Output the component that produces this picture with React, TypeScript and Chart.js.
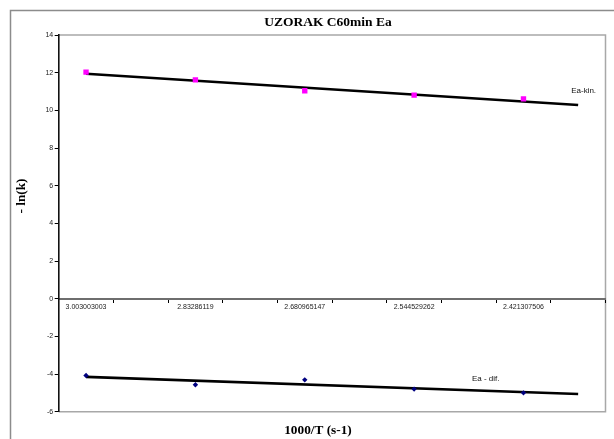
import React, { useEffect, useRef } from 'react';
import { Chart, registerables } from 'chart.js';

Chart.register(...registerables);

// Category axis: 10 slots, labels on every other slot (as in the source sheet)
const categories = ['3.003003003', '', '2.83286119', '', '2.680965147', '', '2.544529262', '', '2.421307506', ''];

// -ln(k) values
const eaKin = [12.03, null, 11.62, null, 11.04, null, 10.81, null, 10.61, null];
const eaDif = [-4.08, null, -4.57, null, -4.31, null, -4.80, null, -5.0, null];

// Linear trendline end values
const eaKinTrend = [11.94, null, null, null, null, null, null, null, null, 10.28];
const eaDifTrend = [-4.15, null, null, null, null, null, null, null, null, -5.06];

const yMin = -6;
const yMax = 14;
const yStep = 2;

const titleText = 'UZORAK C60min Ea';
const xTitleText = '1000/T (s-1)';
const yTitleText = '- ln(k)';
const kinLabel = 'Ea-kin.';
const difLabel = 'Ea - dif.';

const decorPlugin = {
  id: 'decor',
  beforeDraw(chart: any) {
    const { ctx, chartArea: a } = chart;
    ctx.save();
    ctx.fillStyle = '#ffffff';
    ctx.fillRect(0, 0, chart.width, chart.height);
    ctx.strokeStyle = '#8c8c8c';
    ctx.lineWidth = 1.5;
    ctx.strokeRect(10.5, 10.5, chart.width + 40, chart.height + 40);
    ctx.strokeStyle = '#a8a8a8';
    ctx.lineWidth = 1.5;
    ctx.beginPath();
    ctx.moveTo(a.left, a.top);
    ctx.lineTo(a.right, a.top);
    ctx.lineTo(a.right, a.bottom);
    ctx.lineTo(a.left, a.bottom);
    ctx.stroke();
    ctx.restore();
  },
  afterDraw(chart: any) {
    const { ctx } = chart;
    const xs = chart.scales.x;
    const ys = chart.scales.y;
    ctx.save();
    ctx.fillStyle = '#000';
    ctx.textAlign = 'center';
    ctx.textBaseline = 'middle';
    ctx.font = 'bold 13.5px "Liberation Serif"';
    ctx.fillText(titleText, 328, 23);
    ctx.font = 'bold 13.3px "Liberation Serif"';
    ctx.fillText(xTitleText, 318, 431);
    ctx.save();
    ctx.translate(21.5, 196);
    ctx.rotate(-Math.PI / 2);
    ctx.fillText(yTitleText, 0, 0);
    ctx.restore();
    ctx.font = '8px "Liberation Sans"';
    ctx.fillStyle = '#111';
    ctx.fillText(kinLabel, xs.getPixelForValue(9.1), ys.getPixelForValue(11.03));
    ctx.fillText(difLabel, xs.getPixelForValue(7.31), ys.getPixelForValue(-4.27));
    ctx.restore();
  },
};

export default function App() {
  const ref = useRef<HTMLCanvasElement | null>(null);

  useEffect(() => {
    if (!ref.current) return;
    const tickFont = { family: '"Liberation Sans"', size: 7 };
    const chart = new Chart(ref.current, {
      type: 'line',
      data: {
        labels: categories,
        datasets: [
          {
            label: 'Ea-kin.',
            data: eaKin,
            showLine: false,
            pointStyle: 'rect',
            pointRadius: 3.8,
            pointBackgroundColor: '#ff00ff',
            pointBorderColor: '#ff00ff',
            pointBorderWidth: 0,
          },
          {
            label: 'Ea - dif.',
            data: eaDif,
            showLine: false,
            pointStyle: 'rectRot',
            pointRadius: 2.7,
            pointBackgroundColor: '#000080',
            pointBorderColor: '#000080',
            pointBorderWidth: 0,
          },
          {
            label: 'kin trend',
            data: eaKinTrend,
            spanGaps: true,
            borderColor: '#000',
            borderWidth: 2.6,
            pointRadius: 0,
            fill: false,
          },
          {
            label: 'dif trend',
            data: eaDifTrend,
            spanGaps: true,
            borderColor: '#000',
            borderWidth: 2.6,
            pointRadius: 0,
            fill: false,
          },
        ],
      },
      options: {
        animation: false,
        responsive: false,
        devicePixelRatio: 1,
        layout: { padding: { top: 35, right: 8.5, bottom: 27.3, left: 0 } },
        plugins: {
          legend: { display: false },
          tooltip: { enabled: false },
          title: { display: false },
        },
        scales: {
          x: {
            type: 'category',
            position: { y: 0 },
            offset: true,
            grid: {
              offset: true,
              drawOnChartArea: false,
              drawTicks: true,
              tickLength: 3,
              color: '#000',
              lineWidth: 1,
            },
            border: { display: true, color: '#6e6e6e', width: 2 },
            ticks: {
              autoSkip: false,
              maxRotation: 0,
              minRotation: 0,
              font: tickFont,
              color: '#222',
              padding: 1,
            },
            afterFit: (s: any) => {
              s.height = 0;
            },
          },
          y: {
            type: 'linear',
            position: 'left',
            min: yMin,
            max: yMax,
            ticks: { stepSize: yStep, font: tickFont, color: '#222', padding: 1.5 },
            grid: {
              drawOnChartArea: false,
              drawTicks: true,
              tickLength: 4,
              color: '#000',
            },
            border: { display: true, color: '#111', width: 1.6 },
            afterFit: (s: any) => {
              s.width = 58.7;
            },
          },
        },
      },
      plugins: [decorPlugin],
    });
    return () => chart.destroy();
  }, []);

  return (
    <div style={{ position: 'absolute', left: 0, top: 0, width: 614, height: 439 }}>
      <canvas ref={ref} width={614} height={439} style={{ display: 'block' }} />
    </div>
  );
}
